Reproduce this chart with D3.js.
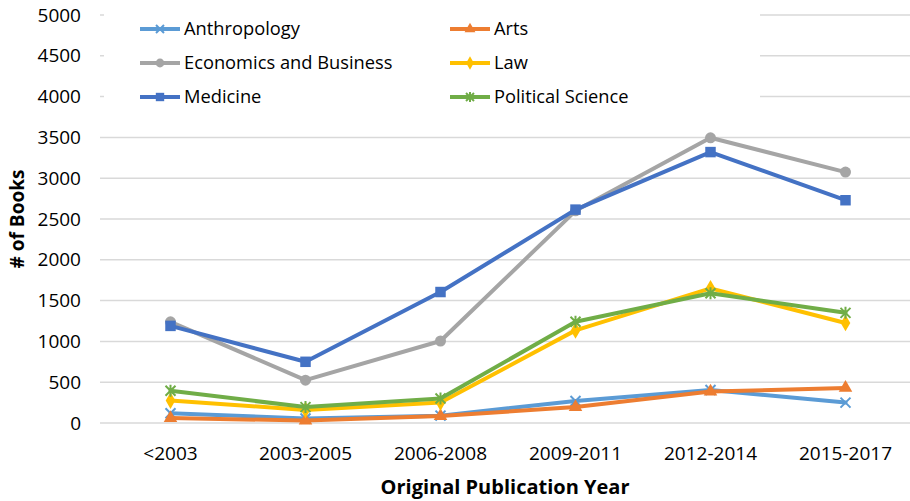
<!DOCTYPE html>
<html><head><meta charset="utf-8">
<script src="https://cdn.jsdelivr.net/npm/d3@7"></script>
<style>body{margin:0;background:#fff}svg{display:block}text{font-family:"Open Sans","Noto Sans",sans-serif;fill:#000}</style>
</head><body><svg id="c" width="910" height="501"></svg>
<script>
const categories = ["<2003","2003-2005","2006-2008","2009-2011","2012-2014","2015-2017"];
const seriesNames = ["Anthropology","Arts","Economics and Business","Law","Medicine","Political Science"];
const anthropology = [120, 55, 90, 270, 405, 250];
const arts = [60, 30, 85, 195, 385, 430];
const economics = [1240, 525, 1005, 2600, 3495, 3075];
const law = [275, 160, 250, 1135, 1650, 1225];
const medicine = [1190, 750, 1605, 2615, 3320, 2730];
const politicalScience = [395, 195, 300, 1240, 1590, 1350];
const yTicks = [0,500,1000,1500,2000,2500,3000,3500,4000,4500,5000];

const colors = ["#5B9BD5","#ED7D31","#A5A5A5","#FFC000","#4472C4","#70AD47"];
const markers = ["x","tri","circle","diamond","square","star"];
const values = [anthropology, arts, economics, law, medicine, politicalScience];
const FONT = '"Open Sans","Noto Sans",sans-serif';

const svg = d3.select("#c");
const x = d3.scaleBand().domain(categories).range([103, 913]);
const y = d3.scaleLinear().domain([0, 5000]).range([423, 15]);

// gridlines
svg.append("g").selectAll("line").data(yTicks).join("line")
  .attr("x1", 100).attr("x2", 910)
  .attr("y1", d => y(d)).attr("y2", d => y(d))
  .attr("stroke", "#D9D9D9").attr("stroke-width", 1.5);

// legend background
svg.append("rect").attr("x", 104).attr("y", 0).attr("width", 656).attr("height", 108).attr("fill", "#fff");

// y axis labels
const yAxis = d3.axisLeft(y).tickValues(yTicks).tickFormat(d3.format("d")).tickSize(0).tickPadding(0);
const gy = svg.append("g").attr("transform", "translate(81,0)").call(yAxis);
gy.select(".domain").remove();
gy.selectAll("text").attr("font-size", 19).style("font-family", FONT).attr("fill", "#000");

// x axis labels
const xAxis = d3.axisBottom(x).tickSize(0).tickPadding(0);
const gx = svg.append("g").attr("transform", "translate(0,446)").call(xAxis);
gx.select(".domain").remove();
gx.selectAll("text").attr("font-size", 19).style("font-family", FONT).attr("fill", "#000");

svg.append("text").attr("x", 505).attr("y", 494).attr("text-anchor", "middle")
  .attr("font-size", 20).attr("font-weight", "bold").text("Original Publication Year");
svg.append("text").attr("transform", "translate(24,219) rotate(-90)").attr("text-anchor", "middle")
  .attr("font-size", 19).attr("font-weight", "bold").text("# of Books");

function marker(g, type, color, cx, cy, s) {
  s = s || 1;
  if (type === "x") {
    const r = 5 * s;
    g.append("path").attr("d", `M${cx-r},${cy-r}L${cx+r},${cy+r}M${cx-r},${cy+r}L${cx+r},${cy-r}`)
      .attr("stroke", color).attr("stroke-width", 2).attr("fill", "none");
  } else if (type === "star") {
    const r = 5 * s;
    g.append("path").attr("d", `M${cx-r},${cy-r}L${cx+r},${cy+r}M${cx-r},${cy+r}L${cx+r},${cy-r}M${cx},${cy-r-1}L${cx},${cy+r+1}`)
      .attr("stroke", color).attr("stroke-width", 2).attr("fill", "none");
  } else {
    const sym = {tri: d3.symbolTriangle, circle: d3.symbolCircle, diamond: d3.symbolDiamond, square: d3.symbolSquare}[type];
    const size = {tri: 80, circle: 95, diamond: 80, square: 110}[type] * s * s;
    g.append("path").attr("d", d3.symbol(sym, size)()).attr("transform", `translate(${cx},${cy})`).attr("fill", color);
  }
}

const line = d3.line().x((d, i) => x(categories[i]) + x.bandwidth() / 2).y(d => y(d));
seriesNames.forEach((name, si) => {
  const g = svg.append("g");
  g.append("path").datum(values[si]).attr("d", line).attr("fill", "none")
    .attr("stroke", colors[si]).attr("stroke-width", 4).attr("stroke-linejoin", "round").attr("stroke-linecap", "round");
  values[si].forEach((v, i) => marker(g, markers[si], colors[si], x(categories[i]) + x.bandwidth() / 2, y(v)));
});

// legend
seriesNames.forEach((name, si) => {
  const col = si % 2, row = Math.floor(si / 2);
  const lx = col === 0 ? 140 : 450, ly = 29 + row * 34;
  const g = svg.append("g");
  g.append("line").attr("x1", lx).attr("x2", lx + 40).attr("y1", ly).attr("y2", ly)
    .attr("stroke", colors[si]).attr("stroke-width", 4);
  marker(g, markers[si], colors[si], lx + 20, ly, 0.8);
  g.append("text").attr("x", lx + 44).attr("y", ly).attr("dy", "0.35em").attr("font-size", 18.3).text(name);
});
</script></body></html>
